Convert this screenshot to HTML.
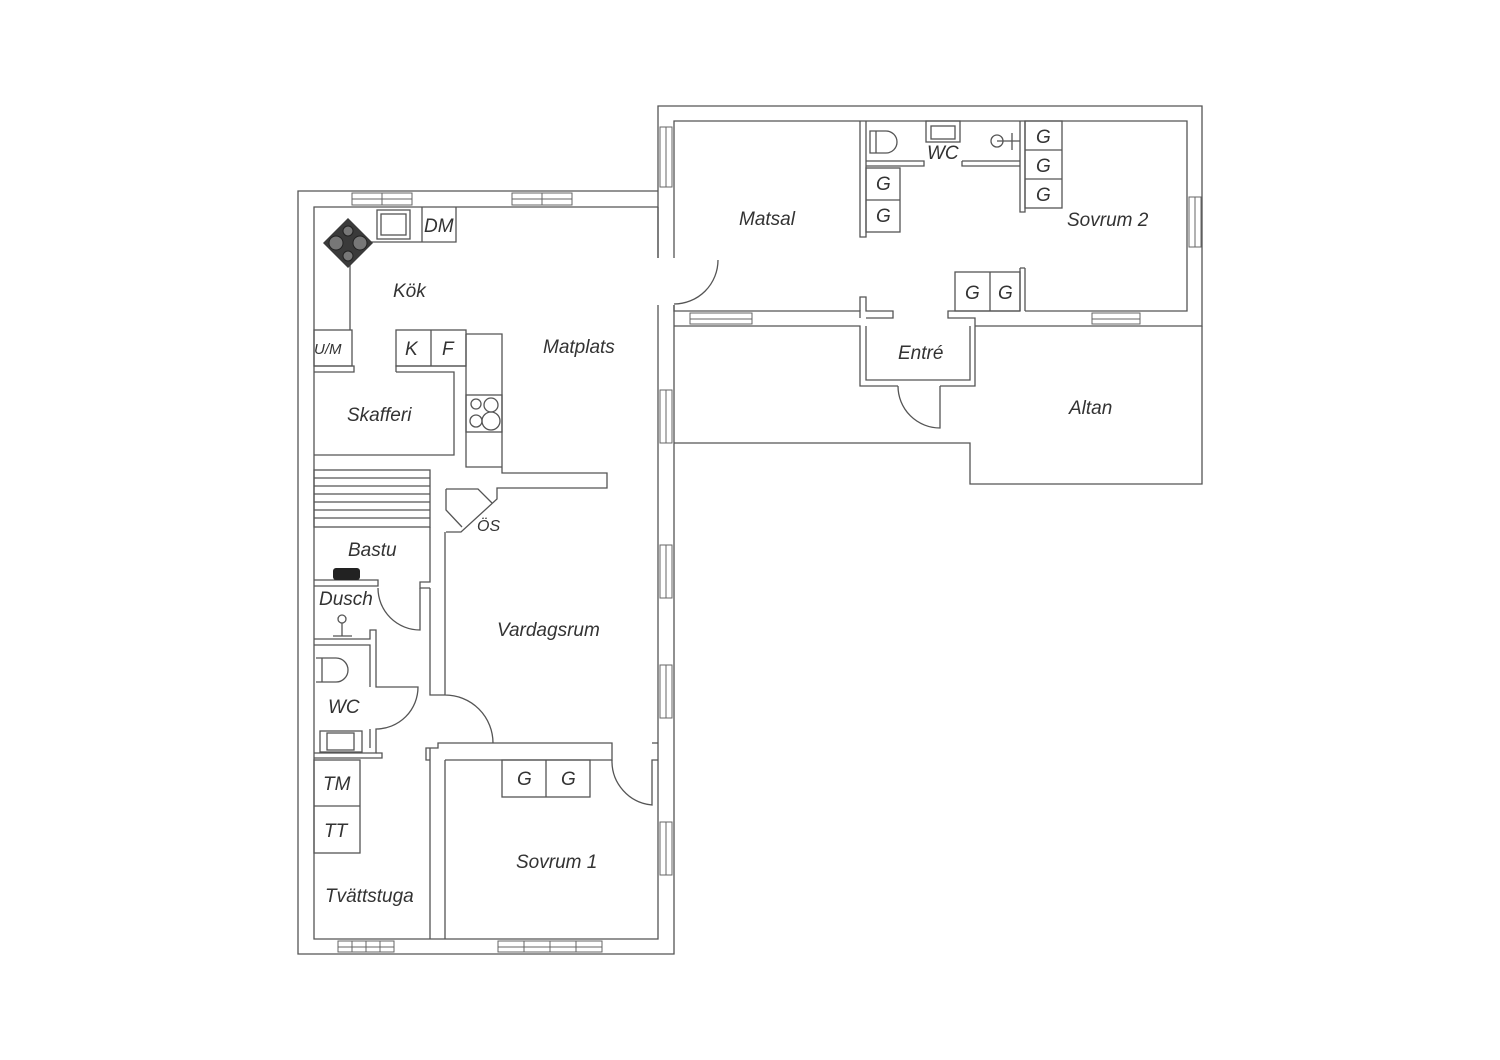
<!DOCTYPE html>
<html><head><meta charset="utf-8"><style>
html,body{margin:0;padding:0;background:#fff;}
svg{display:block;}
text{font-family:"Liberation Sans",sans-serif;font-style:italic;fill:#333;}
</style></head><body>
<svg width="1500" height="1060" viewBox="0 0 1500 1060" xmlns="http://www.w3.org/2000/svg">
<g fill="none" stroke="#555" stroke-width="1.3">
<path d="M658,191 L298,191 L298,954 L674,954 L674,305"/>
<path d="M658,207 L314,207 L314,939 L658,939 L658,305"/>
<path d="M658,207 L658,258"/>
<path d="M658,258 L658,106 L1202,106 L1202,326 L975,326"/>
<path d="M674,258 L674,121 L1187,121 L1187,311 L1025,311"/>
<path d="M674,305 L674,311 L860,311 L860,318"/>
<path d="M674,326 L860,326 L860,386 L898,386"/>
<path d="M940,386 L975,386 L975,326"/>
<path d="M866,326 L866,380 L970,380 L970,326"/>
<path d="M866,318 L893,318 L893,311 L866,311 L866,297 L860,297 L860,311"/>
<path d="M948,311 L1020,311 L948,311 L948,318 L975,318 L975,326"/>
<path d="M718,260 A44,44 0 0 1 674,304"/>
<path d="M940,386 L940,428 A42,42 0 0 1 898,386"/>
<path d="M674,443 L970,443 L970,484 L1202,484 L1202,326"/>
<path d="M860,121 L860,237 L866,237 L866,121"/>
<path d="M866,161 L924,161 L924,166 L866,166"/>
<path d="M962,161 L1020,161 M962,161 L962,166 L1020,166"/>
<path d="M1020,121 L1020,212 L1025,212 L1025,121"/>
<path d="M1020,268 L1020,311 M1025,268 L1025,311 M1020,268 L1025,268"/>
<rect x="866" y="168" width="34" height="64"/><path d="M866,200 L900,200"/>
<rect x="1025" y="121" width="37" height="87"/><path d="M1025,150 L1062,150 M1025,179 L1062,179"/>
<rect x="955" y="272" width="65" height="39"/><path d="M990,272 L990,311"/>
<path d="M870,131 L886,131 A11,11 0 0 1 886,153 L870,153 Z M876,131 L876,153"/>
<rect x="926" y="121" width="34" height="21"/><rect x="931" y="126" width="24" height="13"/>
<circle cx="997" cy="141" r="6"/><path d="M997,141 L1020,141 M1012,133 L1012,150"/>
<g stroke="#666" stroke-width="1">
<rect x="352" y="193" width="60" height="12"/><path d="M352,199 L412,199 M382,193 L382,205"/>
<rect x="512" y="193" width="60" height="12"/><path d="M512,199 L572,199 M542,193 L542,205"/>
<rect x="660" y="127" width="12" height="60"/><path d="M666,127 L666,187"/>
<rect x="1189" y="197" width="12" height="50"/><path d="M1195,197 L1195,247"/>
<rect x="690" y="313" width="62" height="11"/><path d="M690,319 L752,319"/>
<rect x="1092" y="313" width="48" height="11"/><path d="M1092,319 L1140,319"/>
<rect x="660" y="390" width="12" height="53"/><path d="M666,390 L666,443"/>
<rect x="660" y="545" width="12" height="53"/><path d="M666,545 L666,598"/>
<rect x="660" y="665" width="12" height="53"/><path d="M666,665 L666,718"/>
<rect x="660" y="822" width="12" height="53"/><path d="M666,822 L666,875"/>
<rect x="338" y="941" width="56" height="11"/><path d="M338,947 L394,947 M352,941 L352,952 M366,941 L366,952 M380,941 L380,952"/>
<rect x="498" y="941" width="104" height="11"/><path d="M498,947 L602,947 M524,941 L524,952 M550,941 L550,952 M576,941 L576,952"/>
</g>
<path d="M350,242 L456,242 L456,207 M422,207 L422,242"/>
<path d="M350,262 L350,330"/>
<rect x="377" y="210" width="33" height="29"/><rect x="381" y="214" width="25" height="21"/>
<rect x="314" y="330" width="38" height="36"/>
<path d="M314,366 L354,366 L354,372 L314,372"/>
<path d="M396,372 L396,366 L466,366 M396,372 L454,372 L454,455 L314,455"/>
<rect x="396" y="330" width="70" height="36"/><path d="M431,330 L431,366"/>
<path d="M466,334 L502,334 L502,473 L607,473 L607,488 L497,488 L497,499 L461,532 L446,532 M466,334 L466,467 L502,467"/>
<rect x="466" y="395" width="36" height="37"/>
<circle cx="476" cy="404" r="5"/><circle cx="491" cy="405" r="7"/><circle cx="476" cy="421" r="6"/><circle cx="491" cy="421" r="9"/>
<path d="M446,489 L478,489 L492,503 M446,489 L446,510 L462,527"/>
<rect x="314" y="470" width="116" height="57"/>
<path d="M314,478 L430,478 M314,486 L430,486 M314,494 L430,494 M314,502 L430,502 M314,510 L430,510 M314,518 L430,518"/>
<path d="M430,527 L430,582 L420,582 L420,588 L430,588"/>
<path d="M314,580 L378,580 L378,586 L314,586"/>
<path d="M420,588 L420,630 A42,42 0 0 1 378,588"/>
<path d="M430,588 L430,695 L445,695 A48,48 0 0 1 493,743 M445,695 L445,532"/>
<path d="M314,639 L370,639 L370,630 L376,630 L376,687 L418,687 A42,42 0 0 1 376,729 L376,753 L314,753"/>
<path d="M314,645 L370,645 L370,687 M370,729 L370,748"/>
<path d="M376,753 L382,753 L382,758 L314,758"/>
<path d="M316,658 L336,658 A12,12 0 0 1 336,682 L316,682 M322,658 L322,682"/>
<rect x="320" y="731" width="42" height="21"/><rect x="327" y="733" width="27" height="17"/>
<circle cx="342" cy="619" r="4"/><path d="M342,623 L342,636 M333,636 L352,636"/>
<path d="M430,748 L430,939 M445,760 L445,939"/>
<path d="M445,743 L612,743 L612,760 L445,760 M430,748 L438,748 L438,743 L445,743"/>
<path d="M430,748 L426,748 L426,760 L430,760"/>
<path d="M612,760 A44,44 0 0 0 652,805 L652,760 L658,760"/>
<path d="M652,743 L658,743"/>
<rect x="502" y="760" width="88" height="37"/><path d="M546,760 L546,797"/>
<rect x="314" y="760" width="46" height="93"/><path d="M314,806 L360,806"/>
</g>
<polygon points="348,218 373,243 348,268 323,243" fill="#3a3a3a"/>
<circle cx="348" cy="231" r="5" fill="#777" stroke="#222"/>
<circle cx="336" cy="243" r="7" fill="#777" stroke="#222"/>
<circle cx="360" cy="243" r="7" fill="#777" stroke="#222"/>
<circle cx="348" cy="256" r="5" fill="#777" stroke="#222"/>
<rect x="333" y="568" width="27" height="12" rx="3" fill="#222"/>
<g font-size="19">
<text x="393" y="297">Kök</text>
<text x="543" y="353">Matplats</text>
<text x="347" y="421">Skafferi</text>
<text x="348" y="556">Bastu</text>
<text x="319" y="605">Dusch</text>
<text x="328" y="713">WC</text>
<text x="497" y="636">Vardagsrum</text>
<text x="516" y="868">Sovrum 1</text>
<text x="325" y="902">Tvättstuga</text>
<text x="739" y="225">Matsal</text>
<text x="1067" y="226">Sovrum 2</text>
<text x="898" y="359">Entré</text>
<text x="1069" y="414">Altan</text>
<text x="424" y="232">DM</text>
<text x="405" y="355">K</text>
<text x="442" y="355">F</text>
<text x="517" y="785">G</text>
<text x="561" y="785">G</text>
<text x="876" y="190">G</text>
<text x="876" y="222">G</text>
<text x="1036" y="143">G</text>
<text x="1036" y="172">G</text>
<text x="1036" y="201">G</text>
<text x="965" y="299">G</text>
<text x="998" y="299">G</text>
<text x="323" y="790">TM</text>
<text x="324" y="837">TT</text>
<text x="927" y="159">WC</text>
</g>
<text x="314" y="354" font-size="15">U/M</text>
<text x="477" y="531" font-size="16">ÖS</text>
</svg>
</body></html>
